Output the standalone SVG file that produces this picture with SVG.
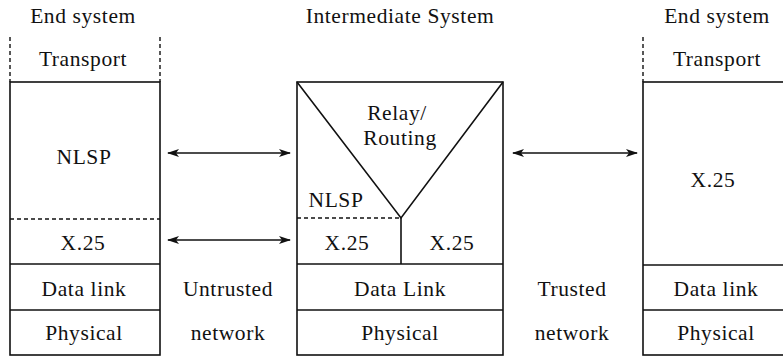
<svg xmlns="http://www.w3.org/2000/svg" width="783" height="360" viewBox="0 0 783 360">
  <style>
    text { font-family: "Liberation Serif", "DejaVu Serif", serif; font-size: 21.5px; letter-spacing: 0.6px; fill: #111; text-anchor: middle; }
    .ln { stroke: #111; stroke-width: 1.6; fill: none; }
    .dash { stroke: #111; stroke-width: 1.4; fill: none; stroke-dasharray: 4 3; }
    .arr { stroke: #111; stroke-width: 1.5; fill: none; marker-start: url(#ah); marker-end: url(#ah); }
  </style>
  <defs>
    <marker id="ah" viewBox="0 0 12 8" refX="11" refY="4" markerWidth="12" markerHeight="8" markerUnits="userSpaceOnUse" orient="auto-start-reverse">
      <path d="M0,0 L12,4 L0,8 L3,4 Z" fill="#111"/>
    </marker>
  </defs>
  <rect width="783" height="360" fill="#fff"/>

  <!-- Left end system -->
  <g id="end-system-left">
    <text x="83" y="23">End system</text>
    <line class="dash" x1="10" y1="37" x2="10" y2="82"/>
    <line class="dash" x1="160" y1="37" x2="160" y2="82"/>
    <text x="83" y="66">Transport</text>
    <rect class="ln" x="10" y="82" width="150" height="273"/>
    <text x="84" y="164">NLSP</text>
    <line class="dash" x1="10" y1="219" x2="160" y2="219"/>
    <text x="83" y="250">X.25</text>
    <line class="ln" x1="10" y1="264" x2="160" y2="264"/>
    <text x="84" y="296">Data link</text>
    <line class="ln" x1="10" y1="310" x2="160" y2="310"/>
    <text x="84" y="340">Physical</text>
  </g>

  <!-- Intermediate system -->
  <g id="intermediate-system">
    <text x="400" y="23">Intermediate System</text>
    <rect class="ln" x="297" y="82" width="206" height="273"/>
    <polyline class="ln" points="297,82 401,218 503,82"/>
    <text x="397" y="120">Relay/</text>
    <text x="400" y="145">Routing</text>
    <text x="336" y="207">NLSP</text>
    <line class="dash" x1="297" y1="218" x2="401" y2="218"/>
    <line class="ln" x1="401" y1="218" x2="401" y2="264"/>
    <text x="347" y="250">X.25</text>
    <text x="452" y="250">X.25</text>
    <line class="ln" x1="297" y1="264" x2="503" y2="264"/>
    <text x="400" y="296">Data Link</text>
    <line class="ln" x1="297" y1="310" x2="503" y2="310"/>
    <text x="400" y="340">Physical</text>
  </g>

  <!-- Right end system -->
  <g id="end-system-right">
    <text x="717" y="23">End system</text>
    <line class="dash" x1="643" y1="37" x2="643" y2="82"/>
    <text x="717" y="66">Transport</text>
    <rect class="ln" x="643" y="82" width="150" height="273"/>
    <text x="713" y="187">X.25</text>
    <line class="ln" x1="643" y1="265" x2="793" y2="265"/>
    <text x="716" y="296">Data link</text>
    <line class="ln" x1="643" y1="310" x2="793" y2="310"/>
    <text x="716" y="340">Physical</text>
  </g>

  <!-- Network labels -->
  <g id="untrusted-network">
    <text x="228" y="296">Untrusted</text>
    <text x="228" y="340">network</text>
  </g>
  <g id="trusted-network">
    <text x="572" y="296">Trusted</text>
    <text x="572" y="340">network</text>
  </g>

  <!-- Peer connectors -->
  <g id="connectors">
    <line class="arr" x1="168" y1="153" x2="290" y2="153"/>
    <line class="arr" x1="168" y1="240" x2="290" y2="240"/>
    <line class="arr" x1="513" y1="153" x2="637" y2="153"/>
  </g>
</svg>
